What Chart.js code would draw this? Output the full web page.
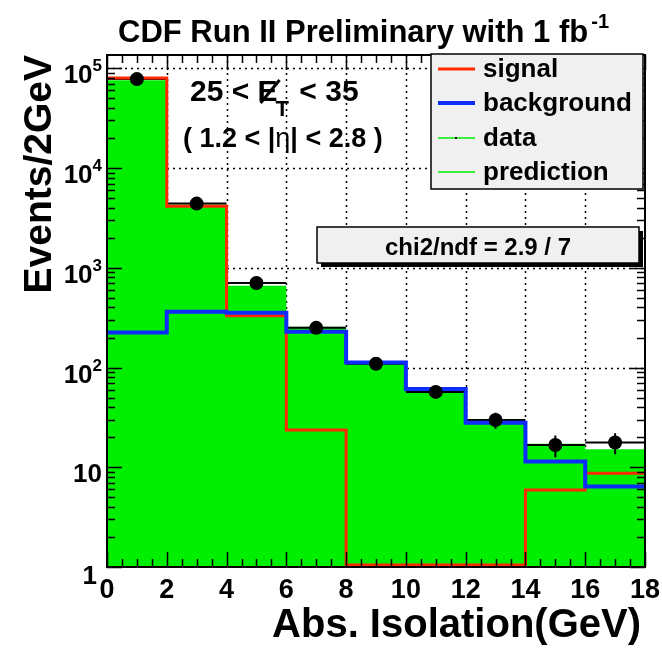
<!DOCTYPE html>
<html>
<head>
<meta charset="utf-8">
<title>Abs. Isolation</title>
<script src="https://cdn.jsdelivr.net/npm/chart.js@4.4.1/dist/chart.umd.min.js"></script>
<style>
  html, body { margin: 0; padding: 0; background: #fff; }
  canvas { display: block; }
</style>
</head>
<body>
<canvas id="isoChart" width="662" height="648"></canvas>
<script>
// histogram binning (GeV) and contents per bin
var binEdges = [0, 2, 4, 6, 8, 10, 12, 14, 16, 18];
var dataCounts = [78000, 4400, 705, 250, 109, 57, 29.8, 16.7, 17.7];
var dataErrors = [280, 66, 27, 16, 10.4, 7.5, 5.5, 4.1, 4.2];
var predCounts = [76000, 4300, 660, 256, 115, 62, 29, 17.2, 15.2];
// empty signal bins sit on the axis floor
var signalCounts = [80000, 4150, 330, 23.7, 1.05, 1.05, 1.05, 5.9, 8.7];
var bkgCounts = [224, 363, 355, 228, 112, 61, 28, 11.4, 6.4];

// axis ticks
var xTickValues = [0, 2, 4, 6, 8, 10, 12, 14, 16, 18];
var xTickLabels = ["0", "2", "4", "6", "8", "10", "12", "14", "16", "18"];
var yTickValues = [1, 10, 100, 1000, 10000, 100000];
var yTickLabels = ["1", "10", "10^2", "10^3", "10^4", "10^5"];

var RED = "#ff2a00";
var BLUE = "#0f2cff";
var GREEN = "#00ee00";
var FONT = "'Liberation Sans', Arial, Helvetica, sans-serif";

// left edges + closing point so the stepped line covers the whole last bin
function stepPoints(counts) {
    var pts = counts.map(function (c, i) {
        return { x: binEdges[i], y: c };
    });
    pts.push({ x: binEdges[binEdges.length - 1], y: counts[counts.length - 1] });
    return pts;
}

function centerPoints(counts) {
    return counts.map(function (c, i) {
        return { x: (binEdges[i] + binEdges[i + 1]) / 2, y: c };
    });
}

function boldFont(px) {
    return "bold " + px + "px " + FONT;
}

// "10^3" style labels: base plus raised exponent, right aligned at xRight
function drawPowerLabel(ctx, label, xRight, yBase) {
    var parts = label.split("^");
    ctx.textAlign = "left";
    ctx.textBaseline = "alphabetic";
    if (parts.length === 1) {
        ctx.font = boldFont(26);
        var w = ctx.measureText(parts[0]).width;
        ctx.fillText(parts[0], xRight - w, yBase);
        return;
    }
    ctx.font = boldFont(17);
    var expW = ctx.measureText(parts[1]).width;
    ctx.font = boldFont(26);
    var baseW = ctx.measureText(parts[0]).width;
    ctx.fillText(parts[0], xRight - expW - baseW, yBase);
    ctx.font = boldFont(17);
    ctx.fillText(parts[1], xRight - expW, yBase - 12);
}

var histDecor = {
    id: "histDecor",
    beforeDatasetsDraw: function (chart) {
        var ctx = chart.ctx;
        var area = chart.chartArea;
        var xs = chart.scales.x;
        var ys = chart.scales.y;
        ctx.save();
        ctx.strokeStyle = "#000";
        ctx.lineWidth = 1.5;
        ctx.setLineDash([2, 4]);
        xTickValues.forEach(function (v) {
            if (v === xs.min || v === xs.max) return;
            var px = Math.round(xs.getPixelForValue(v)) + 0.5;
            ctx.beginPath();
            ctx.moveTo(px, area.top);
            ctx.lineTo(px, area.bottom);
            ctx.stroke();
        });
        yTickValues.forEach(function (v) {
            if (v === ys.min) return;
            var py = Math.round(ys.getPixelForValue(v)) + 0.5;
            ctx.beginPath();
            ctx.moveTo(area.left, py);
            ctx.lineTo(area.right, py);
            ctx.stroke();
        });
        ctx.restore();
    },
    afterDatasetDraw: function (chart, args) {
        // data x-bars and error bars sit on top of the filled prediction
        if (chart.data.datasets[args.index].label !== "prediction") return;
        var ctx = chart.ctx;
        var xs = chart.scales.x;
        var ys = chart.scales.y;
        ctx.save();
        ctx.strokeStyle = "#000";
        ctx.lineWidth = 2;
        dataCounts.forEach(function (c, i) {
            var py = ys.getPixelForValue(c);
            var cx = xs.getPixelForValue((binEdges[i] + binEdges[i + 1]) / 2);
            ctx.beginPath();
            ctx.moveTo(xs.getPixelForValue(binEdges[i]), py);
            ctx.lineTo(xs.getPixelForValue(binEdges[i + 1]), py);
            ctx.moveTo(cx, ys.getPixelForValue(c + dataErrors[i]));
            ctx.lineTo(cx, ys.getPixelForValue(Math.max(1, c - dataErrors[i])));
            ctx.stroke();
        });
        ctx.restore();
    },
    afterDraw: function (chart) {
        var ctx = chart.ctx;
        var area = chart.chartArea;
        var xs = chart.scales.x;
        var ys = chart.scales.y;
        ctx.save();
        ctx.fillStyle = "#000";
        ctx.strokeStyle = "#000";

        // frame
        ctx.lineWidth = 2;
        ctx.strokeRect(area.left, area.top, area.right - area.left, area.bottom - area.top);

        // x ticks, both edges, minor every 0.5
        ctx.lineWidth = 1.5;
        ctx.beginPath();
        for (var i = 0; i <= 36; i++) {
            var px = Math.round(xs.getPixelForValue(i / 2)) + 0.5;
            var len = i % 4 === 0 ? 15 : 8;
            ctx.moveTo(px, area.bottom);
            ctx.lineTo(px, area.bottom - len);
            ctx.moveTo(px, area.top);
            ctx.lineTo(px, area.top + len);
        }
        // y ticks, decades plus 2..9
        for (var d = 0; d <= 5; d++) {
            for (var m = 1; m <= 9; m++) {
                var v = m * Math.pow(10, d);
                if (v > ys.max) break;
                var py = Math.round(ys.getPixelForValue(v)) + 0.5;
                var l = m === 1 ? 15 : 8;
                ctx.moveTo(area.left, py);
                ctx.lineTo(area.left + l, py);
                ctx.moveTo(area.right, py);
                ctx.lineTo(area.right - l, py);
            }
        }
        ctx.stroke();

        // tick labels
        ctx.font = boldFont(27);
        ctx.textAlign = "center";
        ctx.textBaseline = "alphabetic";
        xTickValues.forEach(function (v, i) {
            ctx.fillText(xTickLabels[i], xs.getPixelForValue(v), 598);
        });
        yTickValues.forEach(function (v, i) {
            var py = ys.getPixelForValue(v);
            if (v === 1) {
                drawPowerLabel(ctx, yTickLabels[i], 97, py + 17);
            } else {
                drawPowerLabel(ctx, yTickLabels[i], 102, py + 15);
            }
        });

        // axis titles
        ctx.font = boldFont(40);
        ctx.textAlign = "right";
        ctx.fillText("Abs. Isolation(GeV)", 641, 637);
        ctx.font = boldFont(39);
        ctx.save();
        ctx.translate(51, 55);
        ctx.rotate(-Math.PI / 2);
        ctx.textAlign = "right";
        ctx.fillText("Events/2GeV", 0, 0);
        ctx.restore();

        // title with fb^-1
        ctx.textAlign = "left";
        ctx.font = boldFont(31);
        var title = "CDF Run II Preliminary with 1 fb";
        ctx.fillText(title, 118, 42);
        var tw = ctx.measureText(title).width;
        ctx.font = boldFont(20);
        ctx.fillText("-1", 118 + tw + 3, 28);

        // kinematic cut text: 25 < missing E_T < 35
        var x0 = 190;
        ctx.font = boldFont(30);
        ctx.fillText("25 < ", x0, 101);
        x0 += ctx.measureText("25 < ").width;
        ctx.fillText("E", x0, 101);
        var ew = ctx.measureText("E").width;
        ctx.lineWidth = 3;
        ctx.beginPath();
        ctx.moveTo(x0 + 3, 103);
        ctx.lineTo(x0 + ew + 2, 80);
        ctx.stroke();
        x0 += ew;
        ctx.font = boldFont(22);
        ctx.fillText("T", x0 - 2, 116);
        x0 += ctx.measureText("T").width;
        ctx.font = boldFont(30);
        ctx.fillText(" < 35", x0, 101);

        var x1 = 183;
        ctx.font = boldFont(27);
        ctx.fillText("( 1.2 < |", x1, 147);
        x1 += ctx.measureText("( 1.2 < |").width;
        ctx.font = "27px " + FONT;
        ctx.fillText("\u03b7", x1, 147);
        x1 += ctx.measureText("\u03b7").width;
        ctx.font = boldFont(27);
        ctx.fillText("| < 2.8 )", x1, 147);

        // chi2 box with drop shadow
        ctx.fillStyle = "#000";
        ctx.fillRect(321, 231, 322, 36);
        ctx.fillStyle = "#f0f0f0";
        ctx.fillRect(317, 227, 322, 36);
        ctx.lineWidth = 1.5;
        ctx.strokeRect(317, 227, 322, 36);
        ctx.fillStyle = "#000";
        ctx.font = boldFont(24);
        ctx.textAlign = "center";
        ctx.fillText("chi2/ndf = 2.9 / 7", 478, 255);

        // legend box
        ctx.fillStyle = "#f0f0f0";
        ctx.fillRect(431, 54, 212, 135);
        ctx.lineWidth = 1.5;
        ctx.strokeStyle = "#000";
        ctx.strokeRect(431, 54, 212, 135);
        var rows = [69, 103, 138, 172];
        ctx.textAlign = "left";
        ctx.font = boldFont(26);
        chart.data.datasets.forEach(function (ds, k) {
            var y = rows[k];
            var col = ds.label === "data" || ds.label === "prediction" ? GREEN : ds.borderColor;
            var w = ds.label === "signal" ? 3 : (ds.label === "background" ? 4 : 1.5);
            ctx.strokeStyle = col;
            ctx.lineWidth = w;
            ctx.beginPath();
            ctx.moveTo(438, y);
            ctx.lineTo(475, y);
            ctx.stroke();
            if (ds.label === "data") {
                ctx.fillStyle = "#000";
                ctx.fillRect(455, y - 1, 2, 2);
            }
            ctx.fillStyle = "#000";
            ctx.fillText(ds.label, 483, y + 8);
        });
        ctx.restore();
    }
};

var ctx = document.getElementById("isoChart").getContext("2d");
new Chart(ctx, {
    type: "line",
    data: {
        datasets: [{
            label: "signal",
            data: stepPoints(signalCounts),
            stepped: true,
            borderColor: RED,
            borderWidth: 3,
            pointRadius: 0,
            fill: false,
            order: 2
        }, {
            label: "background",
            data: stepPoints(bkgCounts),
            stepped: true,
            borderColor: BLUE,
            borderWidth: 4,
            pointRadius: 0,
            fill: false,
            order: 1
        }, {
            label: "data",
            data: centerPoints(dataCounts),
            showLine: false,
            pointRadius: 7,
            pointBackgroundColor: "#000",
            pointBorderWidth: 0,
            borderColor: "#000",
            order: 0
        }, {
            label: "prediction",
            data: stepPoints(predCounts),
            stepped: true,
            borderColor: GREEN,
            borderWidth: 0,
            backgroundColor: GREEN,
            pointRadius: 0,
            fill: "start",
            order: 3
        }]
    },
    options: {
        responsive: false,
        animation: false,
        devicePixelRatio: 1,
        layout: {
            padding: { top: 55, right: 17, left: 0, bottom: 0 }
        },
        plugins: {
            legend: { display: false },
            tooltip: { enabled: false },
            title: { display: false }
        },
        scales: {
            x: {
                type: "linear",
                min: 0,
                max: 18,
                ticks: { display: false },
                grid: { display: false },
                border: { display: false },
                afterFit: function (scale) {
                    scale.height = 81;
                }
            },
            y: {
                type: "logarithmic",
                min: 1,
                max: 136000,
                ticks: { display: false },
                grid: { display: false },
                border: { display: false },
                afterFit: function (scale) {
                    scale.width = 107;
                }
            }
        }
    },
    plugins: [histDecor]
});
</script>
</body>
</html>
